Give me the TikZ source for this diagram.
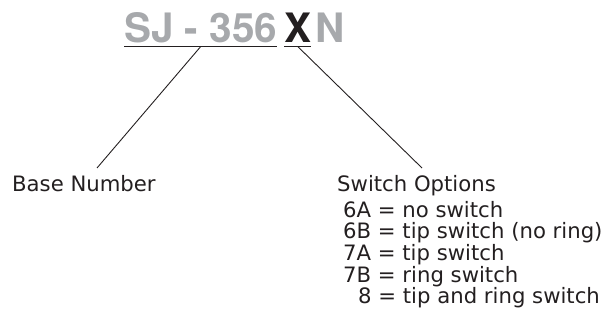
\documentclass[tikz,border=0pt]{standalone}
\usepackage{fontspec}
\setmainfont{DejaVu Sans}
\newfontfamily\titlefont{TeX Gyre Heros}
\usepackage{xcolor}
\usetikzlibrary{calc}
\definecolor{partgray}{HTML}{A7A9AC}
\definecolor{ink}{HTML}{231F20}

\begin{document}
\begin{tikzpicture}[
  x=1pt, y=-1pt,
  font=\fontsize{21.2}{21.5}\selectfont,
  title/.style={font=\titlefont\bfseries\fontsize{40.5}{40.5}\selectfont, text=partgray, inner sep=0pt, anchor=base west},
  label/.style={text=ink, inner sep=0pt, anchor=base west},
  uline/.style={draw=ink, line width=1.4pt},
  leader/.style={draw=ink, line width=0.9pt},
]
\useasboundingbox (0,0) rectangle (610,323);
% part number
\node[title] (base) at (124,43) {SJ - 356};
\node[title, text=ink] (opt) at (284,43) {X};
\node[title] (suffix) at (315,43) {N};
\draw[uline] ([yshift=-3.5pt]base.base west) -- coordinate (basemid) ([yshift=-3.5pt]base.base east);
\draw[uline] ([yshift=-3.5pt]opt.base west) -- coordinate (optmid) ([yshift=-3.5pt]opt.base east);
% labels
\node[label] (basenum) at (12,192) {Base Number};
\node[label] (options) at (337,192) {Switch Options};
\foreach \y/\x/\txt [count=\i] in {217/343/6A = no switch, 238/343/6B = tip switch (no ring),
    260/343/7A = tip switch, 282/343/7B = ring switch, 303/358/8 = tip and ring switch}
  \node[label] (choice\i) at (\x,\y) {\txt};
\coordinate (baseend) at (97,168);
\coordinate (optend) at (422,168);
\draw[leader] (basemid) -- (baseend);
\draw[leader] (optmid) -- (optend);
\end{tikzpicture}
\end{document}
